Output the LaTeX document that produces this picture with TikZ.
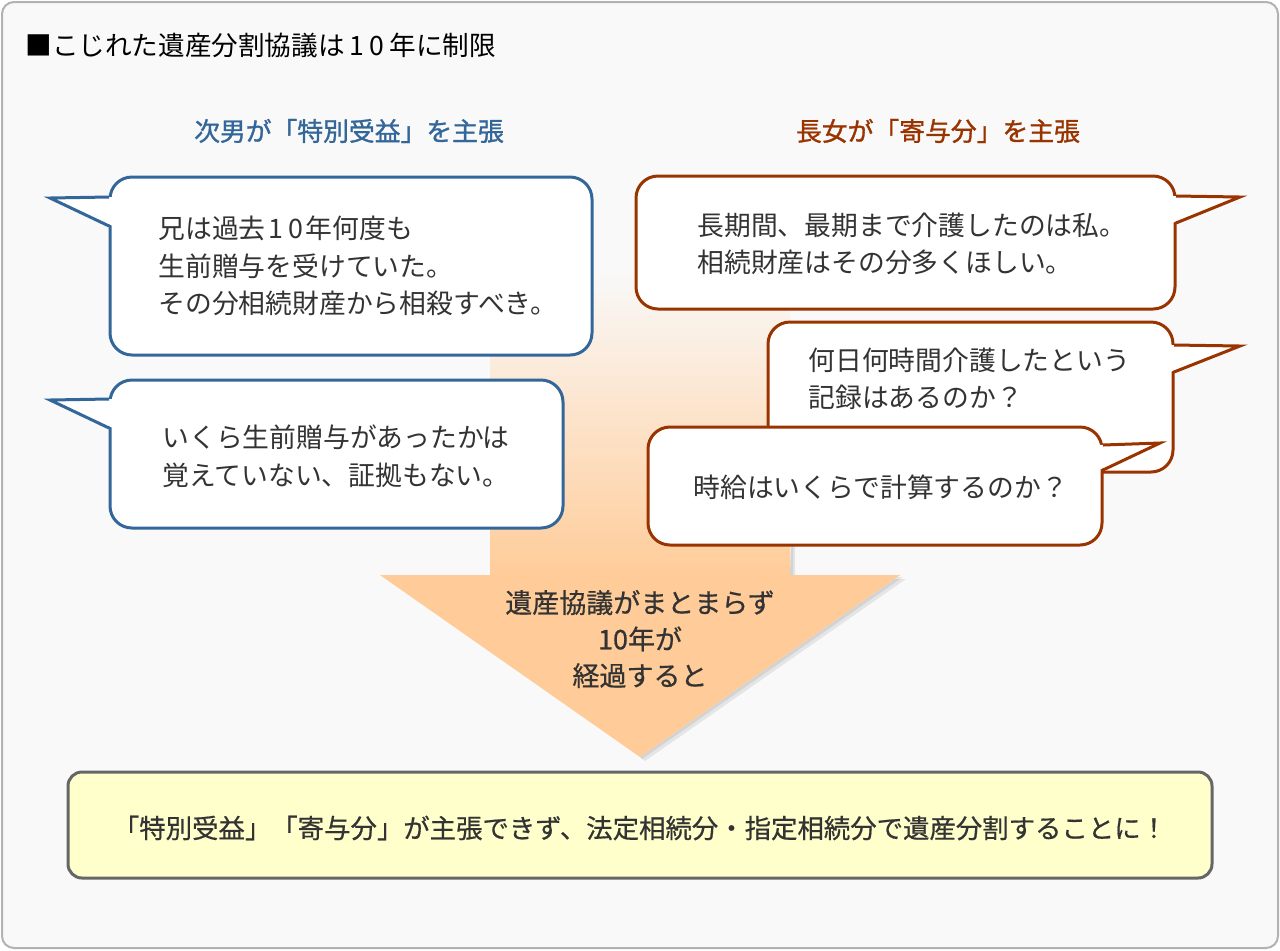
\documentclass[tikz,border=0pt]{standalone}
\usepackage{fontspec}
\setmainfont{Noto Sans CJK JP}
\newfontfamily\midfont[FakeBold=1.2]{Noto Sans CJK JP}
\newfontfamily\semifont[FakeBold=0.6]{Noto Sans CJK JP}
\newcommand\wnum[1][1.6em]{\makebox[#1]{1\hspace{0.2em}0}}
\usetikzlibrary{positioning}
\definecolor{sonBlue}{RGB}{51,102,153}
\definecolor{dauBrown}{RGB}{153,51,0}
\definecolor{arrPeach}{RGB}{255,204,153}
\definecolor{bgGray}{RGB}{249,249,249}
\definecolor{noteYellow}{RGB}{255,255,204}
\definecolor{txtGray}{RGB}{51,51,51}

\begin{document}
\begin{tikzpicture}[x=0.5pt,y=-0.5pt,
  bubB/.style={draw=sonBlue, line width=1.5pt, fill=white, rounded corners=11pt},
  bubR/.style={draw=dauBrown, line width=1.5pt, fill=white, rounded corners=11pt},
  tailB/.style={draw=sonBlue, line width=1.5pt, line join=miter},
  tailR/.style={draw=dauBrown, line width=1.5pt, line join=miter},
  txt/.style={inner sep=0pt, anchor=west, align=left, text=txtGray, font=\fontsize{13.4}{18.75}\selectfont},
  hdr/.style={inner sep=0pt, font=\midfont\fontsize{12.9}{15}\selectfont},
  shd/.style={fill=black, opacity=0.08}
]
  \useasboundingbox (0,0) rectangle (1280,950);
  % frame and title
  \draw[draw=black!30, line width=1pt, fill=bgGray, rounded corners=6pt] (2,2) rectangle (1278,948);
  \node[inner sep=0pt, anchor=west, font=\fontsize{13.3}{15}\selectfont] (title) at (25,45) {■こじれた遺産分割協議は\wnum[1.7em]年に制限};

  % headers
  \node[hdr, text=sonBlue] (hson) at (349,131) {次男が「特別受益」を主張};
  \node[hdr, text=dauBrown] (hdau) at (938,131) {長女が「寄与分」を主張};

  % big arrow (shaft, shadow, head)
  \fill[shd] (795,420) -- (795,579) -- (906,579) -- (645,761) -- (640,757) -- (900,575) -- (790,575) -- cycle;
  \fill[shd] (793,450) -- (793,577) -- (903,577) -- (642,759) -- (640,757) -- (900,575) -- (790,575) -- cycle;
  \shade[top color=bgGray, bottom color=arrPeach] (490,270) rectangle (790,576);
  \fill[arrPeach] (380,575) -- (900,575) -- (640,757) -- cycle;
  \node[inner sep=0pt, align=center, text=txtGray, font=\semifont\fontsize{13.5}{18.25}\selectfont] (lapse) at (640,639)
    {遺産協議がまとまらず\\10年が\\経過すると};

  % left column: son
  \draw[bubB] (110,177) rectangle (592,355);
  \fill[white] (113,197) -- (50,198) -- (113,226) -- cycle;
  \draw[tailB] (109,197) -- (50,198) -- (109,226);
  \node[txt] (s1) at (158,266) {兄は過去\wnum[1.5em]年何度も\\生前贈与を受けていた。\\その分相続財産から相殺すべき。};

  \draw[bubB] (110,380) rectangle (563,528);
  \fill[white] (113,399) -- (50,400) -- (113,428) -- cycle;
  \draw[tailB] (109,399) -- (50,400) -- (109,428);
  \node[txt] (s2) at (162,456) {いくら生前贈与があったかは\\覚えていない、証拠もない。};

  % right column: daughter
  \draw[bubR] (636,176) rectangle (1175,309);
  \fill[white] (1172,196) -- (1240,197) -- (1172,223) -- cycle;
  \draw[tailR] (1176,196) -- (1240,197) -- (1176,223);
  \node[txt] (d1) at (697,244) {長期間、最期まで介護したのは私。\\相続財産はその分多くほしい。};

  \draw[bubR] (768,322) rectangle (1173,472);
  \fill[white] (1170,345) -- (1240,346) -- (1170,372) -- cycle;
  \draw[tailR] (1174,345) -- (1240,346) -- (1174,372);
  \node[txt] (d2) at (808,379) {何日何時間介護したという\\記録はあるのか？};

  \draw[bubR] (648,427) rectangle (1102,545);
  \fill[white] (1099,445) -- (1160,443) -- (1099,470) -- cycle;
  \draw[tailR] (1103,445) -- (1160,443) -- (1103,470);
  \node[txt] (d3) at (693,487) {時給はいくらで計算するのか？};

  % result
  \draw[draw=black!60, line width=1.5pt, fill=noteYellow, rounded corners=7pt] (68,772) rectangle (1212,878);
  \node[inner sep=0pt, text=txtGray, font=\semifont\fontsize{13.2}{16}\selectfont] (res) at (640,828)
    {「特別受益」「寄与分」が主張できず、法定相続分・指定相続分で遺産分割することに！};
\end{tikzpicture}
\end{document}
